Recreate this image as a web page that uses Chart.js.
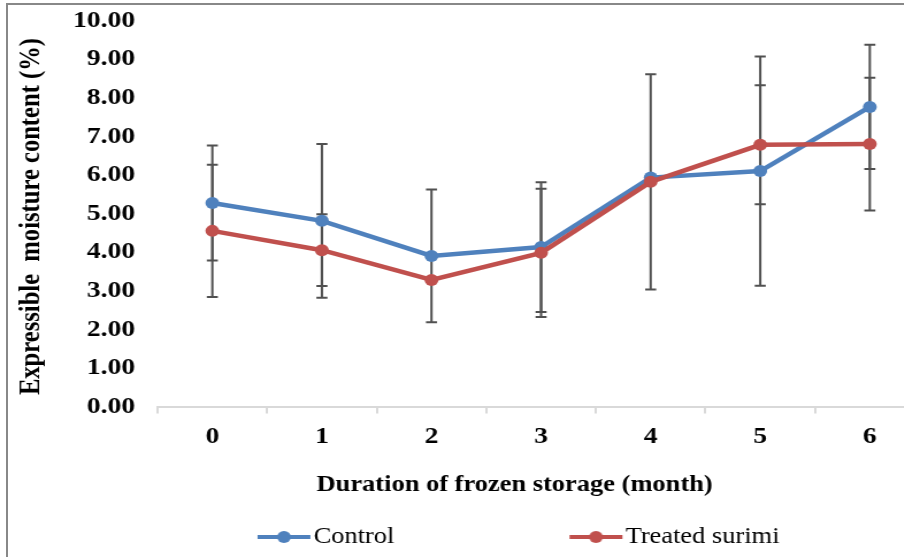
<!DOCTYPE html>
<html>
<head>
<meta charset="utf-8">
<title>Expressible moisture content</title>
<script src="https://cdn.jsdelivr.net/npm/chart.js@4.4.1/dist/chart.umd.min.js"></script>
<style>
  html, body { margin: 0; padding: 0; background: #fff; overflow: hidden; }
  body { width: 904px; height: 557px; position: relative; }
  .frame {
    position: absolute; left: 6px; top: 3px; width: 1000px; height: 700px;
    border-left: 2px solid #888; border-top: 2px solid #888;
  }
  /* the original picture is stretched sideways, so the chart is drawn narrow and widened */
  .stretch { position: absolute; left: 0; top: 0; transform: scaleX(1.15); transform-origin: 0 0; }
</style>
</head>
<body>
<div class="frame"></div>
<div class="stretch"><canvas id="moistureChart" width="810" height="560"></canvas></div>
<script>
// months of frozen storage
const months = ['0', '1', '2', '3', '4', '5', '6'];

// expressible moisture content (%)
const controlValues = [5.27, 4.81, 3.90, 4.13, 5.93, 6.10, 7.76];
const treatedValues = [4.55, 4.05, 3.28, 3.98, 5.82, 6.78, 6.80];

// error bars (+/-)
const controlErrors = [1.49, 1.99, 1.72, 1.68, 0.05, 2.97, 1.61];
const treatedErrors = [1.71, 0.93, 0.05, 1.66, 2.79, 1.54, 1.72];

const yMin = 0;
const yMax = 10;
const yStep = 1;

const serif = '"Liberation Serif", "Times New Roman", serif';
const blue = '#4f81bd';
const red = '#c0504d';

// legend marker: short line with a dot, shifted right inside a wide box
function legendMarker(color) {
  const c = document.createElement('canvas');
  c.width = 154;
  c.height = 16;
  const g = c.getContext('2d');
  g.strokeStyle = color;
  g.lineWidth = 4;
  g.beginPath();
  g.moveTo(106, 8);
  g.lineTo(152, 8);
  g.stroke();
  g.fillStyle = color;
  g.beginPath();
  g.arc(129, 8, 6, 0, Math.PI * 2);
  g.fill();
  return c;
}
const markers = [legendMarker(blue), legendMarker(red)];

const errorBars = {
  id: 'errorBars',
  beforeDatasetsDraw(chart) {
    const ctx = chart.ctx;
    const y = chart.scales.y;
    const errors = [controlErrors, treatedErrors];
    ctx.save();
    ctx.strokeStyle = '#505050';
    ctx.lineWidth = 2;
    chart.data.datasets.forEach((ds, di) => {
      const meta = chart.getDatasetMeta(di);
      meta.data.forEach((pt, i) => {
        const v = ds.data[i];
        const e = errors[di][i];
        const top = y.getPixelForValue(v + e);
        const bot = y.getPixelForValue(v - e);
        ctx.beginPath();
        ctx.moveTo(pt.x, top); ctx.lineTo(pt.x, bot);
        ctx.moveTo(pt.x - 4.8, top); ctx.lineTo(pt.x + 4.8, top);
        ctx.moveTo(pt.x - 4.8, bot); ctx.lineTo(pt.x + 4.8, bot);
        ctx.stroke();
      });
    });
    ctx.restore();
  }
};

new Chart(document.getElementById('moistureChart'), {
  type: 'line',
  data: {
    labels: months,
    datasets: [
      {
        label: 'Control',
        data: controlValues,
        borderColor: blue,
        backgroundColor: blue,
        borderWidth: 4.5,
        pointRadius: 6,
        pointBorderWidth: 0,
        order: 1
      },
      {
        label: 'Treated surimi',
        data: treatedValues,
        borderColor: red,
        backgroundColor: red,
        borderWidth: 4.5,
        pointRadius: 6,
        pointBorderWidth: 0,
        order: 0
      }
    ]
  },
  options: {
    responsive: false,
    animation: false,
    layout: { padding: { top: 20.5, left: 0, right: 3.4, bottom: 1.5 } },
    plugins: {
      tooltip: { enabled: false },
      legend: {
        position: 'bottom',
        labels: {
          font: { family: serif, size: 23 },
          color: '#000',
          usePointStyle: true,
          pointStyleWidth: 132.4,
          padding: 57.1,
          sort: (a, b) => a.datasetIndex - b.datasetIndex,
          generateLabels(chart) {
            const items = Chart.defaults.plugins.legend.labels.generateLabels(chart);
            items.forEach(it => { it.pointStyle = markers[it.datasetIndex]; });
            return items;
          }
        }
      }
    },
    scales: {
      x: {
        offset: true,
        grid: {
          offset: true,
          drawOnChartArea: false,
          drawTicks: true,
          tickLength: 7,
          color: '#d9d9d9',
          lineWidth: 2
        },
        border: { color: '#d9d9d9', width: 2 },
        ticks: {
          font: { family: serif, size: 24, weight: 'bold' },
          color: '#000',
          padding: 9
        },
        title: {
          display: true,
          // trailing no-break spaces pull the centred title a little to the left, as in the original
          text: 'Duration of frozen storage (month)\u00a0\u00a0\u00a0\u00a0\u00a0\u00a0\u00a0\u00a0',
          font: { family: serif, size: 23, weight: 'bold' },
          color: '#000',
          padding: { top: 0, bottom: -30.4 }
        },
        afterFit(scale) { scale.height = 61.9; }
      },
      y: {
        min: yMin,
        max: yMax,
        // invisible tick marks make the gap between labels and plot
        grid: { display: true, drawOnChartArea: false, drawTicks: true, tickLength: 17.6, color: 'rgba(0,0,0,0)' },
        border: { display: false },
        ticks: {
          stepSize: yStep,
          font: { family: serif, size: 24, weight: 'bold' },
          color: '#000',
          padding: 2,
          callback: v => Number(v).toFixed(2)
        },
        title: {
          display: true,
          text: 'Expressible  moisture content (%)\u00a0',
          font: { family: serif, size: 24.6, weight: 'bold' },
          color: '#000',
          padding: { top: 13.1, bottom: 0 }
        },
        afterFit(scale) { scale.width = 137; }
      }
    }
  },
  plugins: [errorBars]
});
</script>
</body>
</html>
